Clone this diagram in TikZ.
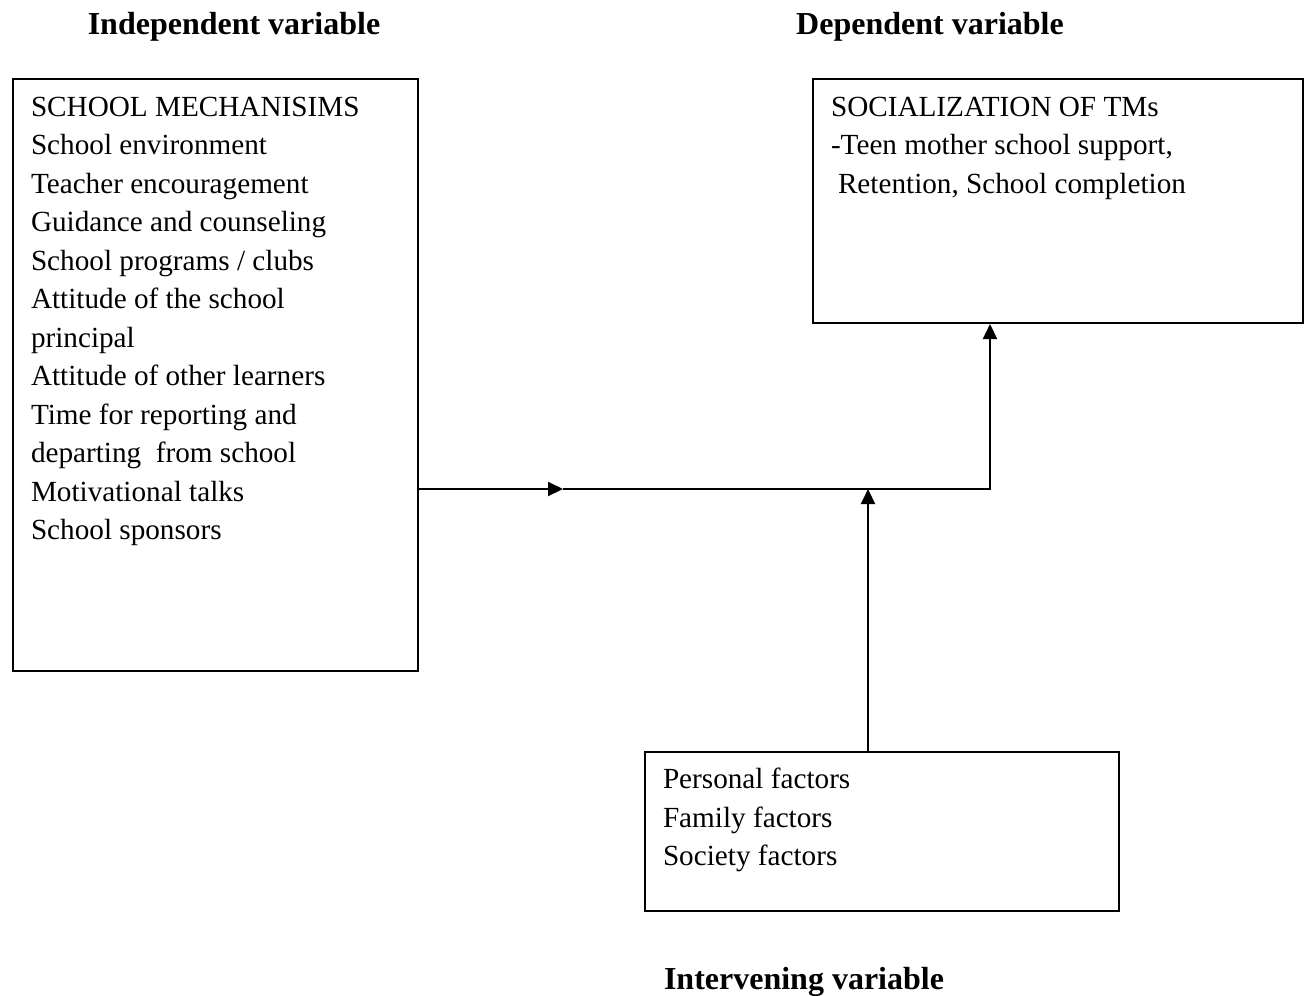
\documentclass[tikz,border=0pt]{standalone}
\usepackage{fontspec}
\setmainfont{Liberation Serif}
\usetikzlibrary{arrows.meta,positioning}
\begin{document}
\begin{tikzpicture}[x=.5pt,y=-.5pt,>={Triangle[length=7.5pt,width=7pt]},line width=1pt,
 font=\fontsize{14.6}{19.25}\selectfont,
 box/.style={draw,inner sep=0pt,anchor=north west},
 list/.style={anchor=north west,align=left,inner sep=0pt},
 head/.style={anchor=base,font=\fontsize{16}{19.25}\selectfont\bfseries,inner sep=0pt}]
\useasboundingbox (0,0) rectangle (1309,995);
% titles
\node[head] (indep) at (234,35) {Independent variable};
\node[head] (dep) at (930,35) {Dependent variable};
\node[head] (interv) at (804,989) {Intervening variable};
% boxes
\node[box,minimum width=202.5pt,minimum height=296pt] (mech) at (12,78) {};
\node[box,minimum width=245pt,minimum height=122pt] (soc) at (812,78) {};
\node[box,minimum width=237pt,minimum height=79.5pt] (pers) at (644,751) {};
\node[list] (mechtxt) at (30,96) {SCHOOL MECHANISIMS\\School environment\\Teacher encouragement\\
 Guidance and counseling\\School programs / clubs\\Attitude of the school\\principal\\
 Attitude of other learners\\Time for reporting and\\departing\ \ from school\\
 Motivational talks\\School sponsors};
\node[list] (soctxt) at (830,96) {SOCIALIZATION OF TMs\\-Teen mother school support,\\
 \hspace{3.5pt}Retention, School completion};
\node[list] (perstxt) at (662,767) {Personal factors\\Family factors\\Society factors};
% connectors
\coordinate (tip) at (563,489);
\coordinate (join) at (990,489);
\coordinate (meet) at (868,489);
\draw[->] (mech.east |- join) -- (tip);
\draw[->] (tip) -- (join) -- (join |- soc.south);
\draw[->] (pers.north -| meet) -- (meet);
\end{tikzpicture}
\end{document}
